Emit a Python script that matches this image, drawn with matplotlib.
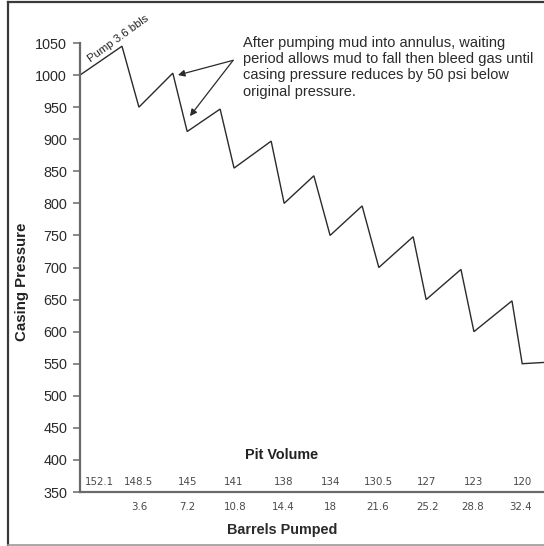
import matplotlib
matplotlib.use("Agg")
import matplotlib.pyplot as plt
from matplotlib.lines import Line2D

# Schematic progression of the volumetric/lubricate procedure (0-100 along the run)
step_x = [0, 9.05, 12.7, 20.0, 23.1, 30.2, 33.2, 41.2, 44.0, 50.4, 53.9,
          60.8, 64.4, 71.8, 74.6, 82.1, 84.9, 93.1, 95.3, 100]
casing_pressure = [1000, 1045, 950, 1003, 912, 947, 855, 897, 800, 843, 750,
                   796, 700, 748, 650, 697, 600, 648, 550, 552]

# Bottom scales
pit_volume_x = [4.1, 12.7, 23.1, 33.2, 43.8, 54.1, 64.4, 74.6, 84.9, 95.3]
pit_volume = ["152.1", "148.5", "145", "141", "138", "134", "130.5", "127", "123", "120"]
barrels_x = [12.7, 23.1, 33.4, 43.8, 53.9, 64.2, 74.8, 84.7, 95.0]
barrels_pumped = ["3.6", "7.2", "10.8", "14.4", "18", "21.6", "25.2", "28.8", "32.4"]

pressure_ticks = list(range(350, 1051, 50))

W, H = 544, 546
fig = plt.figure(figsize=(W / 100, H / 100), dpi=100)
fig.patch.set_facecolor("white")

ax = fig.add_axes([80 / W, (H - 492) / H, 464 / W, 449 / H])
ax.set_xlim(0, 100)
ax.set_ylim(350, 1050)

ax.plot(step_x, casing_pressure, color="#2b2b2b", lw=1.0, solid_joinstyle="miter")

for s in ("top", "right"):
    ax.spines[s].set_visible(False)
for s in ("left", "bottom"):
    ax.spines[s].set_color("#6a6a6a")
    ax.spines[s].set_linewidth(1.6)

ax.set_yticks(pressure_ticks)
ax.set_yticklabels([str(v) for v in pressure_ticks], family="Liberation Sans",
                   fontsize=10.4, color="#2a2a2a")
ax.tick_params(axis="y", direction="out", length=5, width=1.1, color="#6a6a6a", pad=4.3)
ax.set_xticks([])

small = dict(family="DejaVu Sans", fontsize=7.4, color="#4a4a4a", ha="center", va="center")
for x, lab in zip(pit_volume_x, pit_volume):
    ax.annotate(lab, xy=(x, 0), xycoords=("data", "axes fraction"),
                xytext=(0, 7.4), textcoords="offset points", **small)
for x, lab in zip(barrels_x, barrels_pumped):
    ax.annotate(lab, xy=(x, 0), xycoords=("data", "axes fraction"),
                xytext=(0, -10.8), textcoords="offset points", **small)

fig.text(282 / W, (H - 455) / H, "Pit Volume", family="Liberation Sans",
         fontweight="bold", fontsize=10.4, color="#222222", ha="center", va="center")
fig.text(282 / W, (H - 530) / H, "Barrels Pumped", family="Liberation Sans",
         fontweight="bold", fontsize=10.4, color="#2a2a2a", ha="center", va="center")
fig.text(22 / W, (H - 282) / H, "Casing Pressure", family="Liberation Sans",
         fontweight="bold", fontsize=10.8, color="#222222", rotation=90,
         ha="center", va="center")

# Label along the first pumping stroke
ax.text(8.2, 1056, "Pump 3.6 bbls", family="Liberation Sans", fontsize=8.2,
        color="#222222", rotation=36, rotation_mode="anchor",
        ha="center", va="center")

# Explanatory note with arrows to the first two cycles
fig.text(243 / W, (H - 36) / H,
         "After pumping mud into annulus, waiting\n"
         "period allows mud to fall then bleed gas until\n"
         "casing pressure reduces by 50 psi below\n"
         "original pressure.",
         family="Liberation Sans", fontsize=10.5, color="#2a2a2a",
         ha="left", va="top", linespacing=1.2)
arrow = dict(arrowstyle="-|>", color="#2b2b2b", lw=0.9, mutation_scale=10,
             shrinkA=0, shrinkB=0)
ax.annotate("", xy=(21.1, 1000), xytext=(33.0, 1023), arrowprops=arrow)
ax.annotate("", xy=(23.7, 936), xytext=(33.0, 1023), arrowprops=arrow)

# Page frame
fig.add_artist(Line2D([8 / W, 8 / W], [1 / H, (H - 2) / H], transform=fig.transFigure,
                      color="#3a3a3a", lw=1.6))
fig.add_artist(Line2D([8 / W, 1.0], [(H - 2) / H, (H - 2) / H], transform=fig.transFigure,
                      color="#3a3a3a", lw=1.6))
fig.add_artist(Line2D([8 / W, 1.0], [1.2 / H, 1.2 / H], transform=fig.transFigure,
                      color="#9a9a9a", lw=1.2))

fig.savefig("out.png", dpi=100, facecolor="white")
